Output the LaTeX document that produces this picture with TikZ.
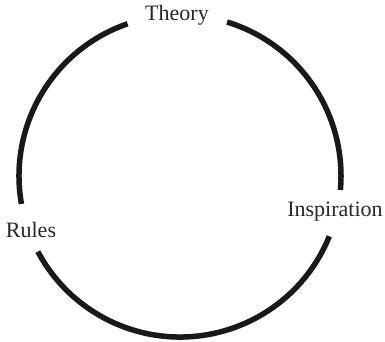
\documentclass[tikz,border=0pt]{standalone}
\usepackage{fontspec}
\setmainfont{Liberation Serif}
\usetikzlibrary{positioning}
\tikzset{
  lbl/.style={font=\fontsize{22}{26}\selectfont, text=black!85, inner sep=0pt},
  ring/.style={line width=5.5pt, draw=black!90}
}
\begin{document}
\begin{tikzpicture}[x=1pt,y=1pt]
            \useasboundingbox (0,0) rectangle (385,341);
            \coordinate (c) at (180,165);
            \node[lbl] (theory) at (177,326) {Theory};
            \node[lbl] (insp) at (335,129) {Inspiration};
            \node[lbl] (rules) at (31,111) {Rules};
            % arcs between the labels
            \draw[ring] (c) ++(73:161) arc[start angle=73, end angle=-5, radius=161];
            \draw[ring] (c) ++(-22:161) arc[start angle=-22, end angle=-152, radius=161];
            \draw[ring] (c) ++(190:161) arc[start angle=190, end angle=109, radius=161];
        \end{tikzpicture}
\end{document}
